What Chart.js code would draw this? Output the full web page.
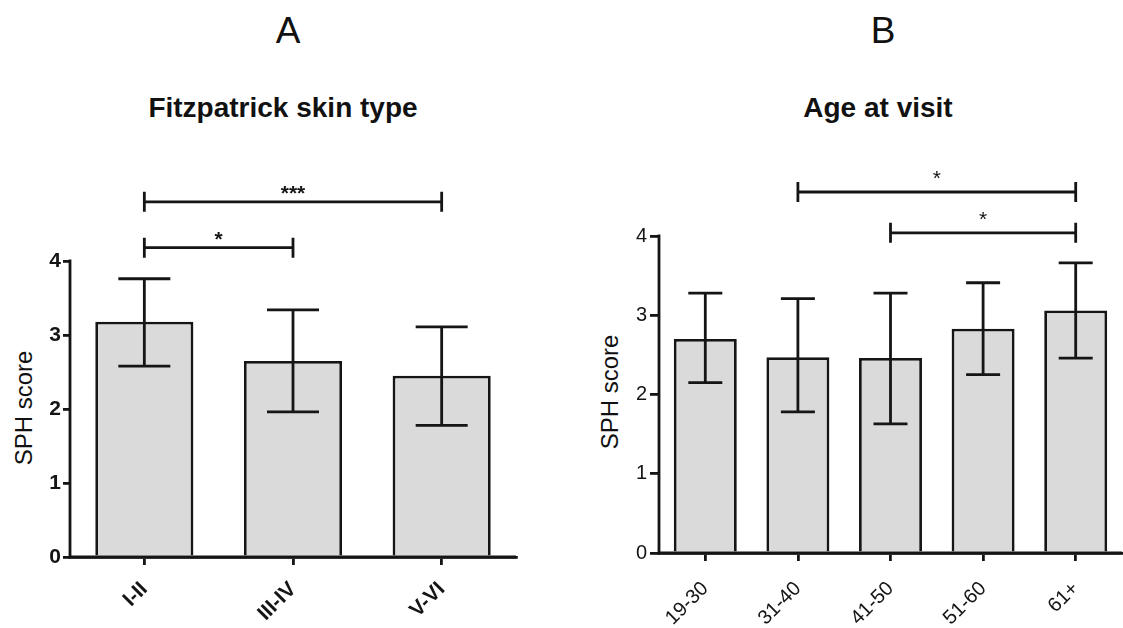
<!DOCTYPE html>
<html>
<head>
<meta charset="utf-8">
<script src="https://cdn.jsdelivr.net/npm/chart.js@4.4.1/dist/chart.umd.min.js"></script>
<style>
  html, body { margin: 0; padding: 0; background: #ffffff; }
  body { width: 1123px; height: 628px; position: relative; overflow: hidden; font-family: "Liberation Sans", Arial, sans-serif; color: #111111; }
  canvas { position: absolute; top: 0; }
  .t { position: absolute; text-align: center; white-space: nowrap; line-height: 1; }
  .ytitle { position: absolute; white-space: nowrap; line-height: 1; text-align: center; transform: rotate(-90deg); transform-origin: 50% 50%; }
</style>
</head>
<body>
<div class="t" id="titleA" style="left:88px; width:400px; top:12px; font-size:37px;">A</div>
<div class="t" id="subA" style="left:83px; width:400px; top:94px; font-size:28px; font-weight:bold;">Fitzpatrick skin type</div>
<div class="t" id="titleB" style="left:683px; width:400px; top:12px; font-size:37px;">B</div>
<div class="t" id="subB" style="left:678px; width:400px; top:94px; font-size:28px; font-weight:bold;">Age at visit</div>
<div class="ytitle" style="left:-76px; width:200px; top:396px; font-size:24px; height:24px;">SPH score</div>
<div class="ytitle" style="left:510px; width:200px; top:380px; font-size:24px; height:24px;">SPH score</div>
<canvas id="chartA" width="540" height="628" style="left:0px;"></canvas>
<canvas id="chartB" width="563" height="628" style="left:560px;"></canvas>
<script>
// ---- Data ----
const yTickValues = [0, 1, 2, 3, 4];

const categoriesA = ['I-II', 'III-IV', 'V-VI'];
const meanA  = [3.18, 2.65, 2.45];
const upperA = [3.76, 3.34, 3.11];
const lowerA = [2.58, 1.96, 1.78];
const sigFromA  = [0, 0];
const sigToA    = [2, 1];
const sigLevelA = [4.80, 4.18];
const sigLabelA = ['***', '*'];

const categoriesB = ['19-30', '31-40', '41-50', '51-60', '61+'];
const meanB  = [2.70, 2.47, 2.46, 2.83, 3.06];
const upperB = [3.28, 3.21, 3.28, 3.41, 3.66];
const lowerB = [2.15, 1.78, 1.63, 2.25, 2.46];
const sigFromB  = [1, 2];
const sigToB    = [4, 4];
const sigLevelB = [4.555, 4.04];
const sigLabelB = ['*', '*'];

// ---- Styling ----
const INK = '#151515';
const FILL = '#dadada';
const LW = 2.8;
const FONT = '"Liberation Sans", Arial, sans-serif';

function extrasPlugin(upper, lower, capHalf, sFrom, sTo, sLevel, sLabel, sOffset, sFont) {
  return {
    id: 'extras',
    afterDatasetsDraw(chart) {
      const ctx = chart.ctx;
      const ys = chart.scales.y, xs = chart.scales.x;
      const area = chart.chartArea;
      const meta = chart.getDatasetMeta(0);
      ctx.save();
      ctx.strokeStyle = INK;
      ctx.fillStyle = INK;
      ctx.lineWidth = LW;
      ctx.lineCap = 'butt';
      // error bars
      meta.data.forEach((bar, i) => {
        const cx = bar.x;
        const yt = ys.getPixelForValue(upper[i]);
        const yb = ys.getPixelForValue(lower[i]);
        ctx.beginPath();
        ctx.moveTo(cx, yt); ctx.lineTo(cx, yb);
        ctx.moveTo(cx - capHalf, yt); ctx.lineTo(cx + capHalf, yt);
        ctx.moveTo(cx - capHalf, yb); ctx.lineTo(cx + capHalf, yb);
        ctx.stroke();
      });
      // axis lines (y only up to the last tick)
      const y0 = ys.getPixelForValue(0);
      const y4 = ys.getPixelForValue(yTickValues[yTickValues.length - 1]);
      ctx.beginPath();
      ctx.moveTo(area.left, y0 + LW / 2); ctx.lineTo(area.left, y4 - LW / 2);
      ctx.moveTo(area.left - LW / 2, y0); ctx.lineTo(area.right, y0);
      ctx.stroke();
      // significance brackets
      ctx.font = sFont;
      ctx.textAlign = 'center';
      ctx.textBaseline = 'alphabetic';
      for (let k = 0; k < sFrom.length; k++) {
        const x1 = xs.getPixelForValue(sFrom[k]);
        const x2 = xs.getPixelForValue(sTo[k]);
        const yy = ys.getPixelForValue(sLevel[k]);
        ctx.beginPath();
        ctx.moveTo(x1, yy); ctx.lineTo(x2, yy);
        ctx.moveTo(x1, yy - 10); ctx.lineTo(x1, yy + 10);
        ctx.moveTo(x2, yy - 10); ctx.lineTo(x2, yy + 10);
        ctx.stroke();
        ctx.fillText(sLabel[k], (x1 + x2) / 2, yy - sOffset);
      }
      ctx.restore();
    }
  };
}

function makeChart(id, cats, means, opts) {
  return new Chart(document.getElementById(id), {
    type: 'bar',
    data: {
      labels: cats,
      datasets: [{
        data: means,
        backgroundColor: FILL,
        borderColor: INK,
        borderWidth: LW,
        borderSkipped: 'start',
        barPercentage: opts.barPct,
        categoryPercentage: 1.0
      }]
    },
    options: {
      responsive: false,
      animation: false,
      devicePixelRatio: 1,
      layout: { padding: { top: 150, right: opts.padRight, left: 0, bottom: 0 } },
      plugins: { legend: { display: false }, tooltip: { enabled: false }, title: { display: false } },
      scales: {
        x: {
          type: 'category',
          offset: true,
          afterFit(scale) { scale.height = opts.xHeight; },
          grid: { display: true, drawOnChartArea: false, drawTicks: true, offset: false, tickLength: 8, color: INK, lineWidth: LW },
          border: { display: true, color: INK, width: LW },
          ticks: {
            color: INK, maxRotation: 45, minRotation: 45, padding: opts.xPad, autoSkip: false,
            font: { family: FONT, size: opts.xFont, weight: opts.xWeight }
          }
        },
        y: {
          min: 0,
          max: opts.yMax,
          afterFit(scale) { scale.width = opts.yWidth; },
          afterBuildTicks(scale) { scale.ticks = yTickValues.map(v => ({ value: v })); },
          grid: { display: true, drawOnChartArea: false, drawTicks: true, tickLength: opts.yTickLen, color: INK, lineWidth: LW },
          border: { display: false },
          ticks: {
            color: INK, padding: opts.yPad,
            font: { family: FONT, size: opts.yFont, weight: opts.yWeight }
          }
        }
      }
    },
    plugins: [opts.plugin]
  });
}

makeChart('chartA', categoriesA, meanA, {
  barPct: 0.66, padRight: 24, xHeight: 71, yWidth: 70, yMax: 5.5,
  xFont: 21, xWeight: 'bold', xPad: 12, yFont: 21, yWeight: 'bold', yTickLen: 7, yPad: 2,
  plugin: extrasPlugin(upperA, lowerA, 26, sigFromA, sigToA, sigLevelA, sigLabelA, 2, 'bold 21px ' + FONT)
});

makeChart('chartB', categoriesB, meanB, {
  barPct: 0.68, padRight: 1, xHeight: 75, yWidth: 99, yMax: 5.085,
  xFont: 20, xWeight: 'normal', xPad: 16, yFont: 20, yWeight: 'normal', yTickLen: 9, yPad: 3,
  plugin: extrasPlugin(upperB, lowerB, 17, sigFromB, sigToB, sigLevelB, sigLabelB, 7, '21px ' + FONT)
});
</script>
</body>
</html>
